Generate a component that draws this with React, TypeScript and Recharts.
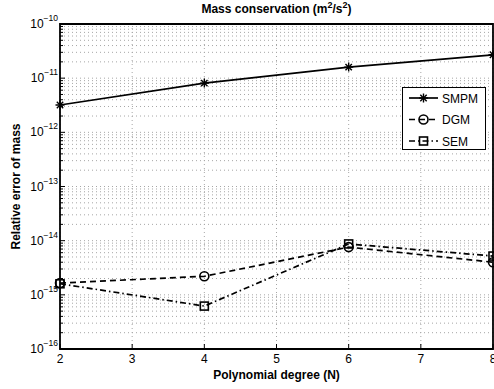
import { LineChart, Line, XAxis, YAxis, CartesianGrid, ReferenceArea } from 'recharts';

const degrees = [2, 4, 6, 8];
const smpmError = [3.2e-12, 8.1e-12, 1.6e-11, 2.7e-11];
const dgmError = [1.65e-15, 2.2e-15, 7.6e-15, 4.0e-15];
const semError = [1.6e-15, 6.2e-16, 8.7e-15, 5.2e-15];

const xTicks = [2, 3, 4, 5, 6, 7, 8];
const decadeExps = [-16, -15, -14, -13, -12, -11, -10];

const FONT = '"Liberation Sans", Arial, Helvetica, sans-serif';

// decades plus the 2..9 minor lines between them
const yTicks: number[] = [];
decadeExps.forEach((e) => {
  if (e === -10) {
    yTicks.push(1e-10);
    return;
  }
  for (let k = 1; k <= 9; k++) yTicks.push(Number(`${k}e${e}`));
});

const data = degrees.map((n, i) => ({
  n,
  smpm: smpmError[i],
  dgm: dgmError[i],
  sem: semError[i],
}));

function YTick(props: any) {
  const { x, y, payload } = props;
  const v = payload.value as number;
  const exp = Math.round(Math.log10(v));
  const isDecade = Math.abs(v - Math.pow(10, exp)) / v < 1e-6;
  return (
    <g>
      <line x1={x} x2={x + (isDecade ? 5 : 3)} y1={y} y2={y} stroke="#000" strokeWidth={1} />
      {isDecade && (
        <text x={x - 2} y={y} dy={4} textAnchor="end" fontFamily={FONT} fontSize={12} fill="#000">
          10
          <tspan dy={-7} fontSize={8.5}>{`\u2212${-exp}`}</tspan>
        </text>
      )}
    </g>
  );
}

function XTick(props: any) {
  const { x, y, payload } = props;
  return (
    <g>
      <line x1={x} x2={x} y1={y} y2={y - 5} stroke="#000" strokeWidth={1} />
      <text x={x} y={y + 14} textAnchor="middle" fontFamily={FONT} fontSize={12} fill="#000">
        {payload.value}
      </text>
    </g>
  );
}

function YTitle(props: any) {
  const { viewBox } = props;
  const cy = viewBox.y + viewBox.height / 2;
  return (
    <text
      x={20}
      y={cy}
      transform={`rotate(-90, 20, ${cy})`}
      textAnchor="middle"
      fontFamily={FONT}
      fontSize={12}
      fontWeight="bold"
      fill="#000"
    >
      Relative error of mass
    </text>
  );
}

function XTitle(props: any) {
  const { viewBox } = props;
  const cx = viewBox.x + viewBox.width / 2;
  return (
    <text x={cx} y={379} textAnchor="middle" fontFamily={FONT} fontSize={12} fontWeight="bold" fill="#000">
      Polynomial degree (N)
    </text>
  );
}

function Asterisk({ cx, cy }: { cx: number; cy: number }) {
  const r = 4.5;
  const d = 3.2;
  return (
    <g stroke="#000" strokeWidth={1.4}>
      <line x1={cx - r} x2={cx + r} y1={cy} y2={cy} />
      <line x1={cx} x2={cx} y1={cy - r} y2={cy + r} />
      <line x1={cx - d} x2={cx + d} y1={cy - d} y2={cy + d} />
      <line x1={cx - d} x2={cx + d} y1={cy + d} y2={cy - d} />
    </g>
  );
}

function Ring({ cx, cy }: { cx: number; cy: number }) {
  return <circle cx={cx} cy={cy} r={4.5} fill="none" stroke="#000" strokeWidth={1.6} />;
}

function Square({ cx, cy }: { cx: number; cy: number }) {
  return <rect x={cx - 4} y={cy - 4} width={8} height={8} fill="none" stroke="#000" strokeWidth={1.6} />;
}

const series = [
  { key: 'smpm', name: 'SMPM', dash: undefined as string | undefined, Marker: Asterisk },
  { key: 'dgm', name: 'DGM', dash: '6 4', Marker: Ring },
  { key: 'sem', name: 'SEM', dash: '6 3 1.5 3', Marker: Square },
];

function LegendBox() {
  return (
    <div
      style={{
        position: 'absolute',
        left: 402,
        top: 87,
        width: 82,
        height: 61,
        border: '1px solid #000',
        background: '#fff',
      }}
    >
      <svg width={82} height={61}>
        {series.map((s, i) => {
          const y = 10 + i * 21.5;
          return (
            <g key={s.key}>
              <line x1={6} x2={35} y1={y} y2={y} stroke="#000" strokeWidth={1.7} strokeDasharray={s.dash} />
              <s.Marker cx={20.5} cy={y} />
              <text x={39} y={y + 4.5} fontFamily={FONT} fontSize={12} fill="#000">
                {s.name}
              </text>
            </g>
          );
        })}
      </svg>
    </div>
  );
}

export default function App() {
  return (
    <div style={{ position: 'absolute', left: 0, top: 0, width: 494, height: 389, background: '#fff' }}>
      <div
        style={{
          position: 'absolute',
          left: 60,
          top: 2,
          width: 433,
          textAlign: 'center',
          fontFamily: FONT,
          fontSize: 12,
          fontWeight: 'bold',
          lineHeight: '14px',
        }}
      >
        Mass conservation (m<sup style={{ fontSize: 9, lineHeight: 0 }}>2</sup>/s
        <sup style={{ fontSize: 9, lineHeight: 0 }}>2</sup>)
      </div>
      <LineChart width={494} height={389} data={data} margin={{ top: 24, right: 1, left: 0, bottom: 0 }}>
        <CartesianGrid strokeDasharray="1 3" stroke="#a6a6a6" />
        <XAxis
          dataKey="n"
          type="number"
          domain={[2, 8]}
          ticks={xTicks}
          interval={0}
          height={40}
          axisLine={false}
          tickLine={false}
          tickSize={0}
          tickMargin={0}
          tick={<XTick />}
          label={<XTitle />}
        />
        <YAxis
          type="number"
          scale="log"
          domain={[1e-16, 1e-10]}
          allowDataOverflow
          ticks={yTicks}
          interval={0}
          width={60}
          axisLine={false}
          tickLine={false}
          tickSize={0}
          tickMargin={0}
          tick={<YTick />}
          label={<YTitle />}
        />
        <ReferenceArea x1={2} x2={8} y1={1e-16} y2={1e-10} fill="none" stroke="#000" strokeWidth={1.8} />
        {series.map((s) => (
          <Line
            key={s.key}
            dataKey={s.key}
            name={s.name}
            stroke="#000"
            strokeWidth={1.7}
            strokeDasharray={s.dash}
            isAnimationActive={false}
            dot={(p: any) => <s.Marker key={`${s.key}-${p.index}`} cx={p.cx} cy={p.cy} />}
            activeDot={false}
          />
        ))}
      </LineChart>
      <LegendBox />
    </div>
  );
}
